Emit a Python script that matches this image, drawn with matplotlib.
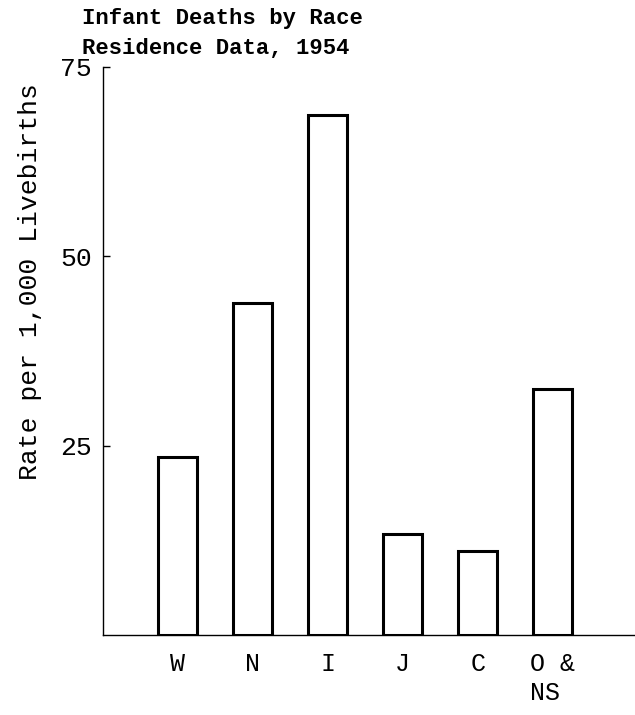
import matplotlib.pyplot as plt

races = ["W", "N", "I", "J", "C", "O &\nNS"]
rates = [23.5, 43.9, 68.6, 13.3, 11.1, 32.5]
yticks = [25, 50, 75]

plt.rcParams['font.family'] = ['Liberation Mono', 'DejaVu Sans Mono']

fig = plt.figure(figsize=(6.35, 7.15), dpi=100)
ax = fig.add_axes([103/635, 80/715, 532/635, 568/715])

x = list(range(len(races)))
ax.bar(x, rates, width=0.52, color="white", edgecolor="black", linewidth=2.2)

ax.set_xlim(-1.0, 6.1)
ax.set_ylim(0, 75)
ax.set_yticks(yticks)
ax.set_yticklabels([str(t) for t in yticks], fontsize=19)
ax.tick_params(axis="y", direction="in", length=5, width=1, pad=8)
ax.set_xticks(x)
ax.set_xticklabels(races, fontsize=18, linespacing=1.3, va="top")
for lbl in ax.get_xticklabels():
    lbl.set_multialignment("left")
ax.tick_params(axis="x", length=0, pad=12)

for s in ["top", "right"]:
    ax.spines[s].set_visible(False)
ax.spines["left"].set_linewidth(1.0)
ax.spines["bottom"].set_linewidth(1.0)

fig.text(82/635, 1 - 8/715, "Infant Deaths by Race\nResidence Data, 1954",
         ha="left", va="top", fontsize=16, fontweight="bold", linespacing=1.55)
fig.text(30/635, 1 - 282/715, "Rate per 1,000 Livebirths", rotation=90,
         ha="center", va="center", fontsize=19)

fig.savefig("out.png", dpi=100)
